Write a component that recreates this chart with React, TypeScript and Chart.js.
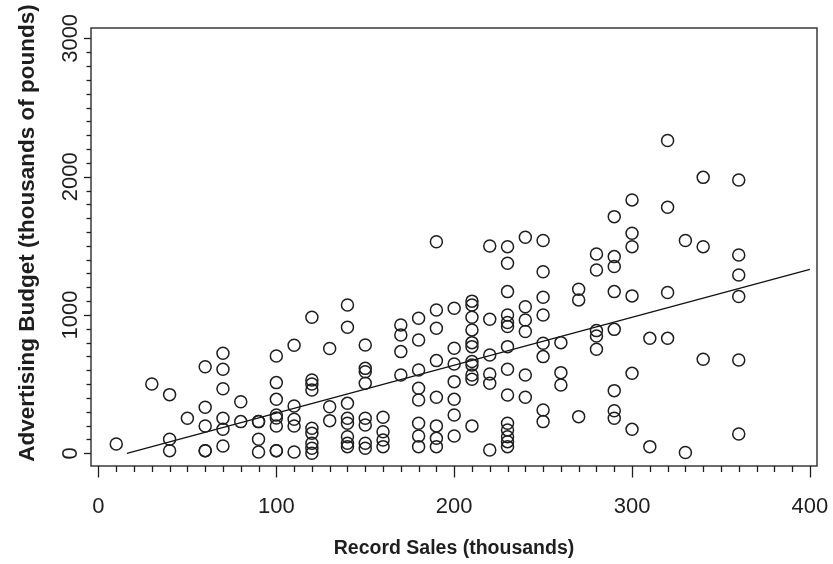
import React, { useEffect, useRef } from "react";
import { Chart, registerables } from "chart.js";

Chart.register(...registerables);

// Record sales (thousands) for each plotted observation
const recordSales = [
  10,
  30,
  40, 40, 40,
  50,
  60, 60, 60, 60, 60,
  70, 70, 70, 70, 70, 70,
  80, 80,
  90, 90, 90, 90,
  100, 100, 100, 100, 100, 100, 100, 100,
  110, 110, 110, 110, 110,
  120, 120, 120, 120, 120, 120, 120, 120, 120,
  130, 130, 130,
  140, 140, 140, 140, 140, 140, 140, 140,
  150, 150, 150, 150, 150, 150, 150, 150,
  160, 160, 160, 160,
  170, 170, 170, 170,
  180, 180, 180, 180, 180, 180, 180, 180,
  190, 190, 190, 190, 190, 190, 190, 190,
  200, 200, 200, 200, 200, 200, 200,
  210, 210, 210, 210, 210, 210, 210, 210, 210, 210, 210,
  220, 220, 220, 220, 220, 220,
  230, 230, 230, 230, 230, 230, 230, 230, 230, 230, 230, 230, 230, 230,
  240, 240, 240, 240, 240, 240,
  250, 250, 250, 250, 250, 250, 250, 250,
  260, 260, 260,
  270, 270, 270,
  280, 280, 280, 280, 280,
  290, 290, 290, 290, 290, 290, 290, 290,
  300, 300, 300, 300, 300, 300,
  310, 310,
  320, 320, 320, 320,
  330, 330,
  340, 340, 340,
  360, 360, 360, 360, 360, 360,
];

// Advertising budget (thousands of pounds), same order as recordSales
const adBudget = [
  67,
  501,
  424, 101, 19,
  253,
  626, 333, 197, 19, 19,
  723, 607, 467, 253, 173, 53,
  373, 229,
  229, 229, 101, 9,
  703, 511, 390, 277, 255, 197, 19, 19,
  781, 342, 246, 197, 9,
  983, 530, 501, 458, 181, 145, 72, 36, 0,
  757, 337, 236,
  1072, 911, 361, 253, 217, 120, 72, 48,
  783, 614, 590, 506, 253, 205, 72, 36,
  260, 156, 96, 48,
  928, 855, 735, 566,
  976, 819, 602, 470, 385, 217, 125, 48,
  1530, 1036, 904, 670, 405, 198, 108, 48,
  1048, 759, 646, 518, 390, 277, 125,
  1100, 1072, 983, 892, 800, 771, 663, 639, 566, 535, 198,
  1499, 969, 711, 573, 506, 24,
  1494, 1374, 1169, 1000, 945, 916, 771, 607, 422, 217, 169, 120, 84, 48,
  1562, 1060, 964, 880, 566, 405,
  1538, 1313, 1128, 1000, 795, 699, 313, 229,
  800, 583, 494,
  1186, 1109, 265,
  1441, 1325, 887, 848, 752,
  1711, 1422, 1350, 1169, 896, 453, 308, 253,
  1832, 1591, 1494, 1138, 578, 173,
  831, 48,
  2261, 1779, 1162, 831,
  1538, 5,
  1995, 1494, 680,
  1976, 1434, 1289, 1133, 675, 140,
];

// Fitted regression line end points
const fitSales = [16, 400];
const fitBudget = [0, 1330];

// Axis ticks / labels
const xTickValues = [0, 100, 200, 300, 400];
const yTickValues = [0, 1000, 2000, 3000];
const xMinorStep = 10;
const yMinorStep = 100;
const xTitle = "Record Sales (thousands)";
const yTitle = "Advertising Budget (thousands of pounds)";

const FONT = '"Liberation Sans", Arial, Helvetica, sans-serif';
const INK = "#1e1e1e";

const framePlugin = {
  id: "framePlugin",
  afterDraw(chart: any) {
    const { ctx, chartArea: a, scales } = chart;
    const xs = scales.x;
    const ys = scales.y;
    ctx.save();
    // box frame
    ctx.strokeStyle = "#3a3a3a";
    ctx.lineWidth = 1.5;
    ctx.strokeRect(a.left, a.top, a.right - a.left, a.bottom - a.top);

    // x ticks (minor + major)
    ctx.strokeStyle = INK;
    ctx.lineWidth = 1.3;
    const xFirst = xTickValues[0];
    const xLast = xTickValues[xTickValues.length - 1];
    for (let v = xFirst; v <= xLast; v += xMinorStep) {
      const px = Math.round(xs.getPixelForValue(v)) + 0.5;
      const major = xTickValues.includes(v);
      ctx.beginPath();
      ctx.moveTo(px, a.bottom);
      ctx.lineTo(px, a.bottom + (major ? 11.5 : 6));
      ctx.stroke();
    }
    // y ticks
    const yFirst = yTickValues[0];
    const yLast = yTickValues[yTickValues.length - 1];
    for (let v = yFirst; v <= yLast; v += yMinorStep) {
      const py = Math.round(ys.getPixelForValue(v)) + 0.5;
      const major = yTickValues.includes(v);
      ctx.beginPath();
      ctx.moveTo(a.left, py);
      ctx.lineTo(a.left - (major ? 7 : 4.5), py);
      ctx.stroke();
    }

    ctx.fillStyle = INK;
    ctx.textAlign = "center";
    ctx.textBaseline = "middle";

    // x tick labels
    ctx.font = `22px ${FONT}`;
    for (const v of xTickValues) {
      ctx.fillText(String(v), xs.getPixelForValue(v), 507);
    }

    // y tick labels (rotated)
    for (const v of yTickValues) {
      const py = ys.getPixelForValue(v);
      ctx.save();
      ctx.translate(70.5, py);
      ctx.rotate(-Math.PI / 2);
      ctx.fillText(String(v), 0, 0);
      ctx.restore();
    }

    // x title
    ctx.font = `bold 19.5px ${FONT}`;
    ctx.fillText(xTitle, (a.left + a.right) / 2, 549);

    // y title
    ctx.font = `bold 22.5px ${FONT}`;
    ctx.save();
    ctx.translate(28, 233);
    ctx.rotate(-Math.PI / 2);
    ctx.fillText(yTitle, 0, 0);
    ctx.restore();

    ctx.restore();
  },
};

export default function App() {
  const canvasRef = useRef<HTMLCanvasElement | null>(null);

  useEffect(() => {
    const canvas = canvasRef.current;
    if (!canvas) return;
    const points = recordSales.map((x, i) => ({ x, y: adBudget[i] }));
    const fit = fitSales.map((x, i) => ({ x, y: fitBudget[i] }));

    const chart = new Chart(canvas, {
      type: "scatter",
      data: {
        datasets: [
          {
            label: "observations",
            data: points,
            pointStyle: "circle",
            pointRadius: 6,
            pointHoverRadius: 6,
            pointBorderWidth: 1.5,
            borderColor: INK,
            backgroundColor: "rgba(0,0,0,0)",
            showLine: false,
          },
          {
            label: "fit",
            data: fit,
            showLine: true,
            pointRadius: 0,
            borderColor: "#111",
            borderWidth: 1.3,
            backgroundColor: "rgba(0,0,0,0)",
          },
        ],
      },
      options: {
        animation: false,
        responsive: false,
        devicePixelRatio: 1,
        layout: { padding: { left: 91, right: 16, top: 28, bottom: 98 } },
        plugins: {
          legend: { display: false },
          tooltip: { enabled: false },
        },
        events: [],
        scales: {
          x: {
            type: "linear",
            display: false,
            min: -4.2,
            max: 404,
          },
          y: {
            type: "linear",
            display: false,
            min: -92,
            max: 3075,
          },
        },
      },
      plugins: [framePlugin],
    });
    return () => chart.destroy();
  }, []);

  return (
    <div style={{ position: "absolute", left: 0, top: 0, width: 833, height: 564, background: "#fff" }}>
      <canvas ref={canvasRef} width={833} height={564} style={{ width: 833, height: 564, display: "block" }} />
    </div>
  );
}
